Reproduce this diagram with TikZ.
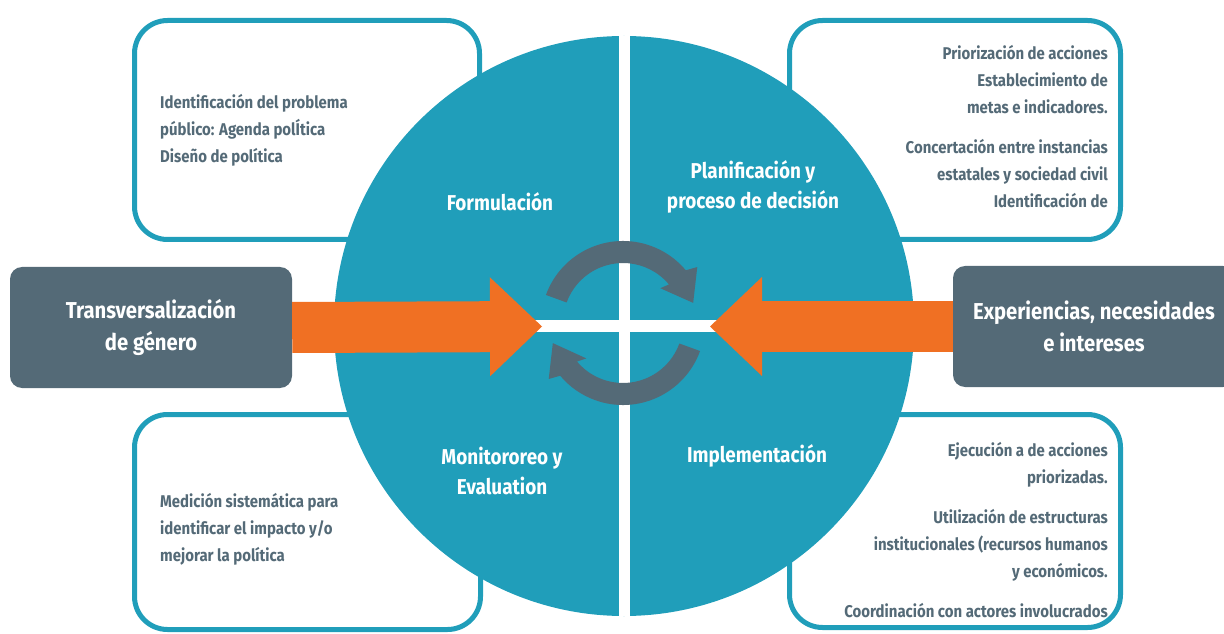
\documentclass[tikz,border=0pt]{standalone}
\usepackage{fontspec}
\setmainfont{Fira Sans}[FakeStretch=0.88]
\usetikzlibrary{arrows.meta}
\definecolor{cycleteal}{HTML}{209EBA}
\definecolor{slate}{HTML}{546A77}
\definecolor{flame}{HTML}{F07023}
\begin{document}
\begin{tikzpicture}[x=1pt,y=1pt]
\tikzset{card/.style={draw=cycleteal,line width=5pt,fill=white,rounded corners=33pt,inner sep=0pt},
note/.style={text=slate,font=\bfseries\fontsize{17}{27}\selectfont,inner sep=0pt},
stage/.style={text=white,font=\bfseries\fontsize{21.5}{30}\selectfont,align=center,inner sep=0pt},
input/.style={fill=slate,rounded corners=12pt,minimum width=282pt,minimum height=121pt,
  text=white,font=\bfseries\fontsize{23}{32}\selectfont,align=center},
flow/.style={flame,line width=51pt,-{Triangle[length=52pt,width=99pt,line width=0pt]}},
turn/.style={fill=slate}}
\useasboundingbox (0,0) rectangle (1224,633);
% corner cards
\node[card,minimum width=345pt,minimum height=219pt] (FB) at (307,503) {};
\node[card,minimum width=331pt,minimum height=219pt] (PB) at (955,503) {};
\node[card,minimum width=346pt,minimum height=215pt] (MB) at (307.5,111) {};
\node[card,minimum width=331pt,minimum height=213pt] (IB) at (955,112) {};
\node[note,anchor=west,align=left] (FT) at (160,503) {Identificación del problema\\público: Agenda polÍtica\\Diseño de política};
\node[note,anchor=east,align=right] (PT) at (1108,506) {Priorización de acciones\\Establecimiento de\\metas e indicadores.\\[13pt]Concertación entre instancias\\estatales y sociedad civil\\Identificación de};
\node[note,anchor=west,align=left] (MT) at (160,103.5) {Medición sistemática para\\identificar el impacto y/o\\mejorar la política};
\node[note,anchor=east,align=right] (IT) at (1108,103) {Ejecución a de acciones\\priorizadas.\\[13pt]Utilización de estructuras\\institucionales (recursos humanos\\y económicos.\\[13pt]Coordinación con actores involucrados};
% the cycle
\coordinate (hub) at (624,307);
\fill[cycleteal] (hub) circle[radius=290];
\draw[white,line width=11pt] (624,17) -- (624,597);
\draw[white,line width=12pt] (334,307) -- (914,307);
\begin{scope}[shift={(623,310)}]
\fill[turn] (160:82) arc[start angle=160,end angle=40,radius=82] -- (37:93) -- (16:73)
  -- (43:51) -- (40:60) arc[start angle=40,end angle=160,radius=60] -- cycle;
\fill[turn] (-20:82) arc[start angle=-20,end angle=-140,radius=82] -- (217:93) -- (196:73)
  -- (224:51) -- (220:60) arc[start angle=220,end angle=340,radius=60] -- cycle;
\end{scope}
\node[stage] (form) at (500,431) {Formulación};
\node[stage] (plan) at (753,446) {Planificación y\\proceso de decisión};
\node[stage] (moni) at (502,162) {Monitororeo y\\Evaluation};
\node[stage] (impl) at (757,177) {Implementación};
% inputs
\node[input] (gender) at (151,305.5) {Transversalización\\de género};
\node[input] (voices) at (1094,306.5) {Experiencias, necesidades\\e intereses};
\coordinate (hubW) at (542,306.5);
\coordinate (hubE) at (710,306.5);
\draw[flow] (gender.east) -- (hubW);
\draw[flow] (voices.west) -- (hubE);
\end{tikzpicture}
\end{document}
